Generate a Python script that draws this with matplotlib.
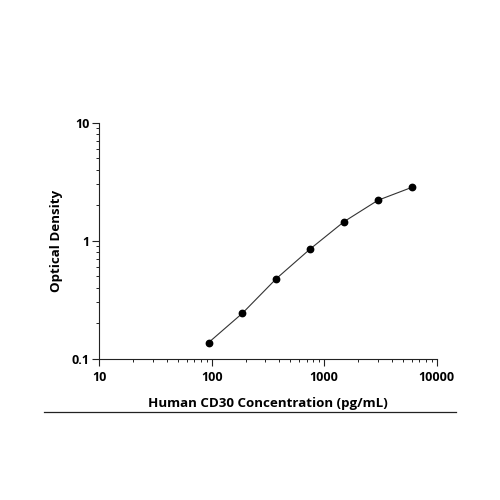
import matplotlib
matplotlib.use("Agg")
import matplotlib.pyplot as plt
from matplotlib.ticker import LogLocator, FixedLocator, NullFormatter, FixedFormatter
from matplotlib.lines import Line2D

concentration = [93.75, 187.5, 375, 750, 1500, 3000, 6000]
optical_density = [0.137, 0.243, 0.477, 0.851, 1.45, 2.20, 2.83]
x_ticks = [10, 100, 1000, 10000]
x_tick_labels = ["10", "100", "1000", "10000"]
y_ticks = [0.1, 1, 10]
y_tick_labels = ["0.1", "1", "10"]

plt.rcParams['font.family'] = ['Open Sans', 'DejaVu Sans']

fig = plt.figure(figsize=(5, 5), dpi=100)
ax = fig.add_axes([0.1986, 0.2826, 0.6748, 0.472])

ax.plot(concentration, optical_density, color="#333333", lw=0.8, zorder=2)
ax.plot(concentration, optical_density, 'o', color="black", ms=4.6, zorder=3)

ax.set_xscale('log')
ax.set_yscale('log')
ax.set_xlim(10, 10000)
ax.set_ylim(0.1, 10)

ax.xaxis.set_major_locator(FixedLocator(x_ticks))
ax.xaxis.set_major_formatter(FixedFormatter(x_tick_labels))
ax.yaxis.set_major_locator(FixedLocator(y_ticks))
ax.yaxis.set_major_formatter(FixedFormatter(y_tick_labels))
ax.xaxis.set_minor_locator(LogLocator(base=10, subs=range(2, 10)))
ax.yaxis.set_minor_locator(LogLocator(base=10, subs=range(2, 10)))
ax.xaxis.set_minor_formatter(NullFormatter())
ax.yaxis.set_minor_formatter(NullFormatter())

for s in ['top', 'right']:
    ax.spines[s].set_visible(False)
for s in ['left', 'bottom']:
    ax.spines[s].set_linewidth(0.8)
    ax.spines[s].set_color("#222222")

ax.tick_params(which='major', direction='out', length=5, width=0.8, color="#222222",
               labelsize=9)
ax.tick_params(axis='x', which='major', pad=4)
ax.tick_params(axis='y', which='major', pad=2)
ax.tick_params(which='minor', direction='out', length=2.5, width=0.7, color="#222222")
for lbl in ax.get_xticklabels() + ax.get_yticklabels():
    lbl.set_fontweight('bold')

ax.set_xlabel("Human CD30 Concentration (pg/mL)", fontsize=9.6, fontweight='bold', labelpad=9)
ax.set_ylabel("Optical Density", fontsize=9.6, fontweight='bold', labelpad=6)

fig.add_artist(Line2D([44/500, 456/500], [1-412/500, 1-412/500], color="#222222", lw=0.9,
                      transform=fig.transFigure))

fig.savefig("out.png", dpi=100)
